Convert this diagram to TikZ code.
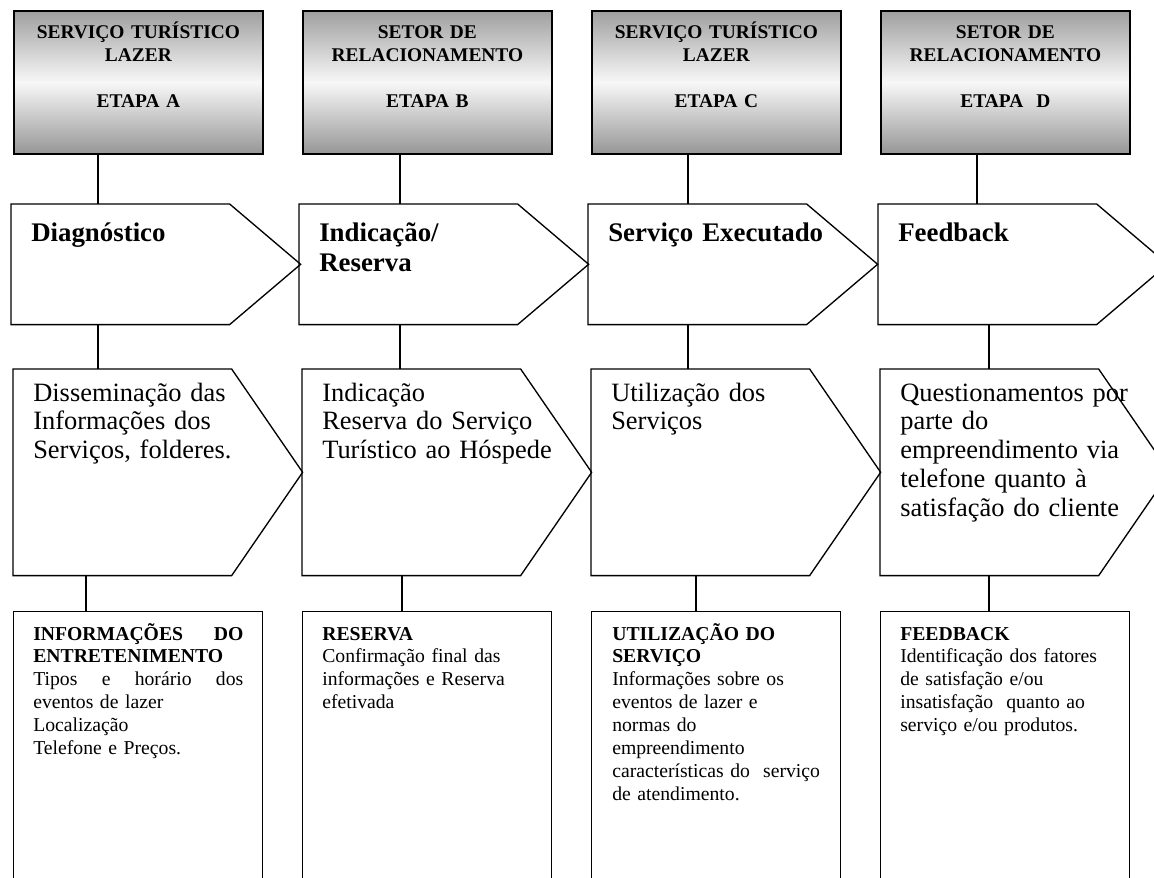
\documentclass[tikz,border=0pt]{standalone}
\usepackage{fontspec}
\setmainfont{Liberation Serif}
\usepackage{tikz}
\usetikzlibrary{positioning}
\usetikzlibrary{calc}
\tikzstyle{setor} = [draw, line width=1.2pt, top color=gray!75, bottom color=gray!82, middle color=gray!6, minimum width=6.225cm, minimum height=3.575cm, inner sep=0pt, anchor=north west]
\tikzstyle{fase} = [minimum width=7.225cm, minimum height=3cm, inner sep=0pt, anchor=north west]
\tikzstyle{acao} = [minimum width=7.225cm, minimum height=5.15cm, inner sep=0pt, anchor=north west]
\tikzstyle{info} = [draw, line width=0.95pt, minimum width=6.225cm, minimum height=7.3cm, inner sep=0pt, anchor=north west]
\tikzstyle{contorno} = [draw, line width=0.95pt]
\tikzstyle{liga} = [draw, line width=0.85pt]
\tikzstyle{tsetor} = [anchor=base, text width=6.225cm, align=center, inner sep=0pt, font=\fontsize{13.8pt}{16.3pt}\selectfont\bfseries]
\tikzstyle{tfase} = [anchor=base west, text width=7cm, align=left, inner sep=0pt, font=\fontsize{19.1pt}{21.3pt}\selectfont\bfseries]
\tikzstyle{tacao} = [anchor=base west, text width=7cm, align=left, inner sep=0pt, font=\fontsize{18.8pt}{20.6pt}\selectfont]
\tikzstyle{tinfo} = [anchor=base west, text width=5.25cm, align=left, inner sep=0pt, font=\fontsize{14pt}{16.3pt}\selectfont]

\begin{document}
\begin{tikzpicture}[x=0.025cm, y=-0.025cm]

	\useasboundingbox (0,0) rectangle (1154,878);
	\clip (0,0) rectangle (1154,878);
	
	% setores (etapas)
	\node[setor] (s1) at (13,10) {};
	\node[setor] (s2) at (302,10) {};
	\node[setor] (s3) at (591,10) {};
	\node[setor] (s4) at (880,10) {};
	
	\node[tsetor] at ($(s1.north)+(0,29)$) {SERVIÇO TURÍSTICO\\ LAZER\\[16.3pt] ETAPA A};
	\node[tsetor] at ($(s2.north)+(0,29)$) {SETOR DE\\ RELACIONAMENTO\\[16.3pt] ETAPA B};
	\node[tsetor] at ($(s3.north)+(0,29)$) {SERVIÇO TURÍSTICO\\ LAZER\\[16.3pt] ETAPA C};
	\node[tsetor] at ($(s4.north)+(0,29)$) {SETOR DE\\ RELACIONAMENTO\\[16.3pt] ETAPA\ \ D};
	
	% fases
	\node[fase] (f1) at (11,204) {};
	\node[fase] (f2) at (299,204) {};
	\node[fase] (f3) at (588,204) {};
	\node[fase] (f4) at (878,204) {};
	
	% acoes
	\node[acao] (a1) at (13,369) {};
	\node[acao] (a2) at (302,369) {};
	\node[acao] (a3) at (591,369) {};
	\node[acao] (a4) at (880,369) {};
	
	\foreach \n in {f1,f2,f3,f4,a1,a2,a3,a4}
		\path[contorno] (\n.north west) -- ($(\n.north east)+(-71,0)$) -- (\n.east)
			-- ($(\n.south east)+(-71,0)$) -- (\n.south west) -- cycle;
	
	\node[tfase] at ($(f1.north west)+(20,38)$) {Diagnóstico};
	\node[tfase] at ($(f2.north west)+(20,38)$) {Indicação/\\ Reserva};
	\node[tfase] at ($(f3.north west)+(20,38)$) {Serviço Executado};
	\node[tfase] at ($(f4.north west)+(20,38)$) {Feedback};
	
	\node[tacao] at ($(a1.north west)+(20,32)$) {Disseminação das\\ Informações dos\\ Serviços, folderes.};
	\node[tacao] at ($(a2.north west)+(20,32)$) {Indicação\\ Reserva do Serviço\\ Turístico ao Hóspede};
	\node[tacao] at ($(a3.north west)+(20,32)$) {Utilização dos\\ Serviços};
	\node[tacao] at ($(a4.north west)+(20,32)$) {Questionamentos por\\ parte do\\ empreendimento via\\ telefone quanto à\\ satisfação do cliente};
	
	% informacoes
	\node[info] (i1) at (13,611) {};
	\node[info] (i2) at (302,611) {};
	\node[info] (i3) at (591,611) {};
	\node[info] (i4) at (880,611) {};
	
	\node[tinfo] at ($(i1.north west)+(20,29)$) {\textbf{INFORMAÇÕES \hfill DO}\\ \textbf{ENTRETENIMENTO}\\ Tipos \hfill e \hfill horário \hfill dos\\ eventos de lazer\\ Localização\\ Telefone e Preços.};
	\node[tinfo] at ($(i2.north west)+(20,29)$) {\textbf{RESERVA}\\ Confirmação final das\\ informações e Reserva\\ efetivada};
	\node[tinfo] at ($(i3.north west)+(21,29)$) {\textbf{UTILIZAÇÃO DO}\\ \textbf{SERVIÇO}\\ Informações sobre os\\ eventos de lazer e\\ normas do\\ empreendimento\\ características do\ \ serviço\\ de atendimento.};
	\node[tinfo] at ($(i4.north west)+(20,29)$) {\textbf{FEEDBACK}\\ Identificação dos fatores\\ de satisfação e/ou\\ insatisfação\ \ quanto ao\\ serviço e/ou produtos.};
	
	% ligacoes
	\path[liga] ($(s1.south west)+(85,0)$) -- ($(f1.north west)+(87,0)$);
	\path[liga] ($(s2.south west)+(98,0)$) -- ($(f2.north west)+(101,0)$);
	\path[liga] ($(s3.south west)+(97,0)$) -- ($(f3.north west)+(100,0)$);
	\path[liga] ($(s4.south west)+(97,0)$) -- ($(f4.north west)+(99,0)$);
	
	\path[liga] ($(f1.south west)+(87,0)$) -- ($(a1.north west)+(85,0)$);
	\path[liga] ($(f2.south west)+(101,0)$) -- ($(a2.north west)+(98,0)$);
	\path[liga] ($(f3.south west)+(100,0)$) -- ($(a3.north west)+(97,0)$);
	\path[liga] ($(f4.south west)+(111,0)$) -- ($(a4.north west)+(109,0)$);
	
	\path[liga] ($(a1.south west)+(73,0)$) -- ($(i1.north west)+(73,0)$);
	\path[liga] ($(a2.south west)+(100,0)$) -- ($(i2.north west)+(100,0)$);
	\path[liga] ($(a3.south west)+(105,0)$) -- ($(i3.north west)+(105,0)$);
	\path[liga] ($(a4.south west)+(109,0)$) -- ($(i4.north west)+(109,0)$);
	
\end{tikzpicture}
\end{document}
